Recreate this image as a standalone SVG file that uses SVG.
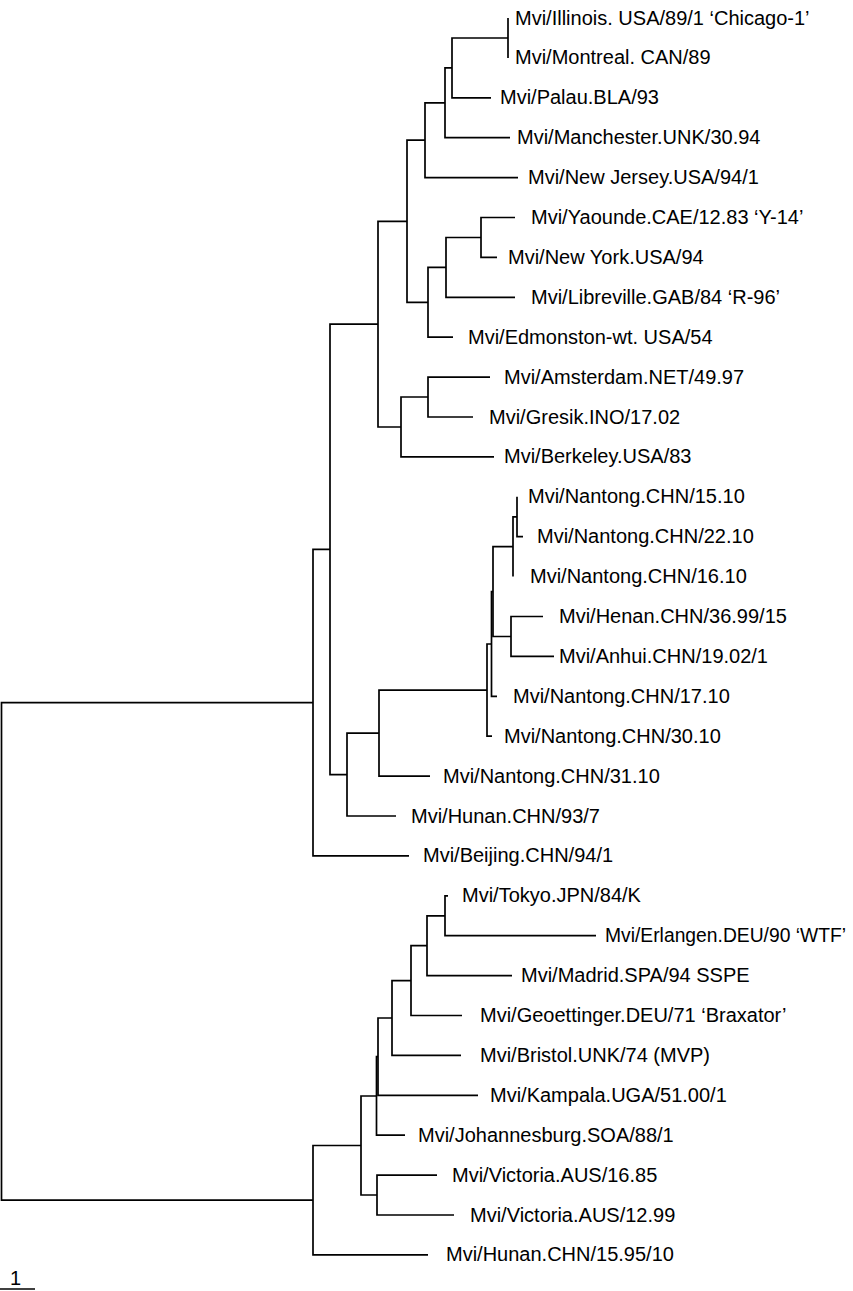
<svg xmlns="http://www.w3.org/2000/svg" width="853" height="1291" viewBox="0 0 853 1291">
<style>
.br{fill:none;stroke:#000;stroke-width:1.7;stroke-linejoin:miter}
.lb{font-family:"Liberation Sans",Arial,Helvetica,sans-serif;font-size:20px;fill:#000}
</style>
<rect width="853" height="1291" fill="#fff"/>
<g id="connectors" class="br">
<path d="M508 18 V57.9"/>
<path d="M508 38 H452 V97.8 H491"/>
<path d="M452 67.9 H445 V137.7 H510"/>
<path d="M445 102.8 H425 V177.6 H518"/>
<path d="M515 217.5 H481 V257.4 H497"/>
<path d="M481 237.5 H446 V297.3 H515"/>
<path d="M446 267.4 H428 V337.2 H453"/>
<path d="M425 140.2 H407 V302.3 H428"/>
<path d="M490 377.1 H428 V417 H473"/>
<path d="M428 397 H401 V456.9 H494"/>
<path d="M407 221.3 H378 V427 H401"/>
<path d="M517 496.8 V536.7 H523"/>
<path d="M517 516.8 H513 V576.6"/>
<path d="M543 616.5 H511 V656.4 H554"/>
<path d="M513 546.7 H493 V636.5 H511"/>
<path d="M493 591.6 H491.5 V696.3 H497"/>
<path d="M491.5 644 H487 V736.2 H492"/>
<path d="M487 690.1 H379 V776.1 H430"/>
<path d="M379 733.1 H347 V816 H396"/>
<path d="M378 324.2 H330 V774.6 H347"/>
<path d="M330 549.4 H313 V855.9 H409"/>
<path d="M448 895.8 H445 V935.7 H596"/>
<path d="M445 915.8 H427 V975.6 H512"/>
<path d="M427 945.7 H411 V1015.5 H462"/>
<path d="M411 980.6 H392 V1055.4 H461"/>
<path d="M392 1018 H378 V1095.3 H478"/>
<path d="M378 1056.7 H376.5 V1135.2 H405"/>
<path d="M437 1175.1 H377 V1215 H454"/>
<path d="M376.5 1096 H361 V1195 H377"/>
<path d="M361 1145.5 H313 V1254.9 H428"/>
<path d="M313 702.7 H1.5 V1200.2 H313"/>
</g>
<g id="leaf-illinois"><text class="lb" x="515" y="24.5">Mvi/Illinois. USA/89/1 ‘Chicago-1’</text></g>
<g id="leaf-montreal"><text class="lb" x="515" y="64.4">Mvi/Montreal. CAN/89</text></g>
<g id="leaf-palau"><text class="lb" x="500" y="104.3">Mvi/Palau.BLA/93</text></g>
<g id="leaf-manchester"><text class="lb" x="517" y="144.2">Mvi/Manchester.UNK/30.94</text></g>
<g id="leaf-newjersey"><text class="lb" x="528" y="184.1">Mvi/New Jersey.USA/94/1</text></g>
<g id="leaf-yaounde"><text class="lb" x="531" y="224">Mvi/Yaounde.CAE/12.83 ‘Y-14’</text></g>
<g id="leaf-newyork"><text class="lb" x="508" y="263.9">Mvi/New York.USA/94</text></g>
<g id="leaf-libreville"><text class="lb" x="531" y="303.8">Mvi/Libreville.GAB/84 ‘R-96’</text></g>
<g id="leaf-edmonston"><text class="lb" x="468" y="343.7">Mvi/Edmonston-wt. USA/54</text></g>
<g id="leaf-amsterdam"><text class="lb" x="504" y="383.6">Mvi/Amsterdam.NET/49.97</text></g>
<g id="leaf-gresik"><text class="lb" x="489" y="423.5">Mvi/Gresik.INO/17.02</text></g>
<g id="leaf-berkeley"><text class="lb" x="504" y="463.4">Mvi/Berkeley.USA/83</text></g>
<g id="leaf-nantong-15-10"><text class="lb" x="528" y="503.3">Mvi/Nantong.CHN/15.10</text></g>
<g id="leaf-nantong-22-10"><text class="lb" x="537" y="543.2">Mvi/Nantong.CHN/22.10</text></g>
<g id="leaf-nantong-16-10"><text class="lb" x="530" y="583.1">Mvi/Nantong.CHN/16.10</text></g>
<g id="leaf-henan"><text class="lb" x="559" y="623">Mvi/Henan.CHN/36.99/15</text></g>
<g id="leaf-anhui"><text class="lb" x="559" y="662.9">Mvi/Anhui.CHN/19.02/1</text></g>
<g id="leaf-nantong-17-10"><text class="lb" x="513" y="702.8">Mvi/Nantong.CHN/17.10</text></g>
<g id="leaf-nantong-30-10"><text class="lb" x="504" y="742.7">Mvi/Nantong.CHN/30.10</text></g>
<g id="leaf-nantong-31-10"><text class="lb" x="443" y="782.6">Mvi/Nantong.CHN/31.10</text></g>
<g id="leaf-hunan-93"><text class="lb" x="411" y="822.5">Mvi/Hunan.CHN/93/7</text></g>
<g id="leaf-beijing"><text class="lb" x="423" y="862.4">Mvi/Beijing.CHN/94/1</text></g>
<g id="leaf-tokyo"><text class="lb" x="462" y="902.3">Mvi/Tokyo.JPN/84/K</text></g>
<g id="leaf-erlangen"><text class="lb" x="605" y="942.2" style="font-size:19.3px">Mvi/Erlangen.DEU/90 ‘WTF’</text></g>
<g id="leaf-madrid"><text class="lb" x="521" y="982.1">Mvi/Madrid.SPA/94 SSPE</text></g>
<g id="leaf-geoettinger"><text class="lb" x="480" y="1022">Mvi/Geoettinger.DEU/71 ‘Braxator’</text></g>
<g id="leaf-bristol"><text class="lb" x="480" y="1061.9">Mvi/Bristol.UNK/74 (MVP)</text></g>
<g id="leaf-kampala"><text class="lb" x="490" y="1101.8">Mvi/Kampala.UGA/51.00/1</text></g>
<g id="leaf-johannesburg"><text class="lb" x="418" y="1141.7">Mvi/Johannesburg.SOA/88/1</text></g>
<g id="leaf-victoria-16-85"><text class="lb" x="452" y="1181.6">Mvi/Victoria.AUS/16.85</text></g>
<g id="leaf-victoria-12-99"><text class="lb" x="470" y="1221.5">Mvi/Victoria.AUS/12.99</text></g>
<g id="leaf-hunan-15-95"><text class="lb" x="446" y="1261.4">Mvi/Hunan.CHN/15.95/10</text></g>
<g id="scale-bar">
<path class="br" d="M0 1289 H35"/>
<text class="lb" x="15.5" y="1285" text-anchor="middle">1</text>
</g>
</svg>
